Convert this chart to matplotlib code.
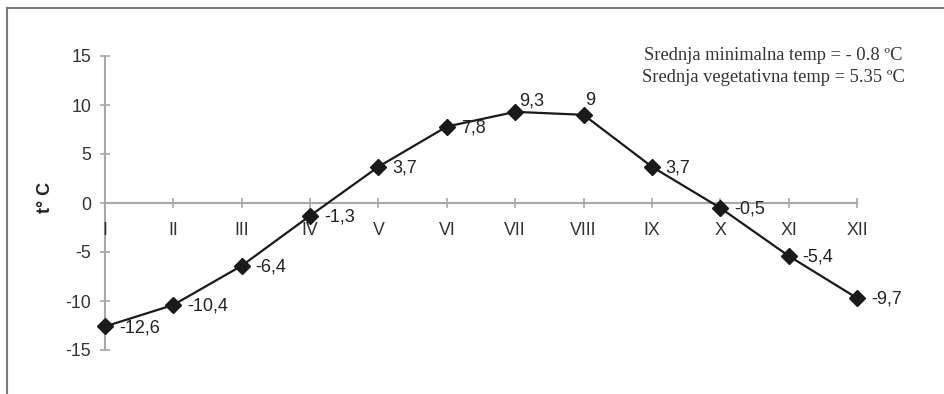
import matplotlib
matplotlib.use("Agg")
import matplotlib.pyplot as plt
from matplotlib.lines import Line2D

months = ["I", "II", "III", "IV", "V", "VI", "VII", "VIII", "IX", "X", "XI", "XII"]
temps = [-12.6, -10.4, -6.4, -1.3, 3.7, 7.8, 9.3, 9.0, 3.7, -0.5, -5.4, -9.7]
labels = ["-12,6", "-10,4", "-6,4", "-1,3", "3,7", "7,8", "9,3", "9", "3,7", "-0,5", "-5,4", "-9,7"]
yticks = [-15, -10, -5, 0, 5, 10, 15]
note_lines = ["Srednja minimalna temp = - 0.8 ºC", "Srednja vegetativna temp = 5.35 ºC"]

plt.rcParams['font.family'] = ['Liberation Sans', 'DejaVu Sans']

fig = plt.figure(figsize=(9.44, 3.94), dpi=100)
ax = fig.add_axes([105/944, 1-350/394, 752/944, 294/394])

x = list(range(len(months)))
ax.plot(x, temps, color='#1a1a1a', lw=1.6, marker='D', ms=8, mfc='#1a1a1a', mec='#1a1a1a',
        zorder=3, clip_on=False)

ax.set_xlim(0, 11)
ax.set_ylim(-15, 15)
ax.spines['top'].set_visible(False)
ax.spines['right'].set_visible(False)
ax.spines['bottom'].set_position(('data', 0))
for s in ['left', 'bottom']:
    ax.spines[s].set_color('#a8a8a8')
    ax.spines[s].set_linewidth(1.5)
    ax.spines[s].set_zorder(0.5)

ax.set_yticks(yticks)
ax.set_yticklabels([str(v) for v in yticks])
ax.set_xticks(x)
ax.set_xticklabels(months)
ax.tick_params(axis='y', direction='inout', length=7, width=1.2, color='#a8a8a8',
               labelsize=12.8, labelcolor='#333333', pad=6.5)
ax.tick_params(axis='x', direction='inout', length=7, width=1.2, color='#a8a8a8',
               labelsize=12.8, labelcolor='#333333', pad=10)
ax.patch.set_alpha(0)

ax.set_ylabel("t° C", fontsize=13, fontweight='bold', color='#222222')
ax.yaxis.set_label_coords(-0.068, 0.52)

offsets = {6: (3, 8), 7: (1, 10)}
for i, (v, lab) in enumerate(zip(temps, labels)):
    dx, dy = offsets.get(i, (10, -1))
    ax.annotate(lab, (i, v), xytext=(dx, dy), textcoords='offset points',
                ha='left', va='center', fontsize=13, color='#222222', zorder=4)

fig.text(773/944, 1-56/394, note_lines[0], ha='center', va='center',
         fontsize=13.3, family='Liberation Serif', color='#333333')
fig.text(773/944, 1-78/394, note_lines[1], ha='center', va='center',
         fontsize=13.3, family='Liberation Serif', color='#333333')

fig.add_artist(Line2D([7/944, 1.0], [1-8/394, 1-8/394], transform=fig.transFigure,
                      color='#7a7a7a', lw=1.5))
fig.add_artist(Line2D([7/944, 7/944], [0, 1-8/394], transform=fig.transFigure,
                      color='#7a7a7a', lw=1.5))

fig.savefig("out.png", dpi=100)
